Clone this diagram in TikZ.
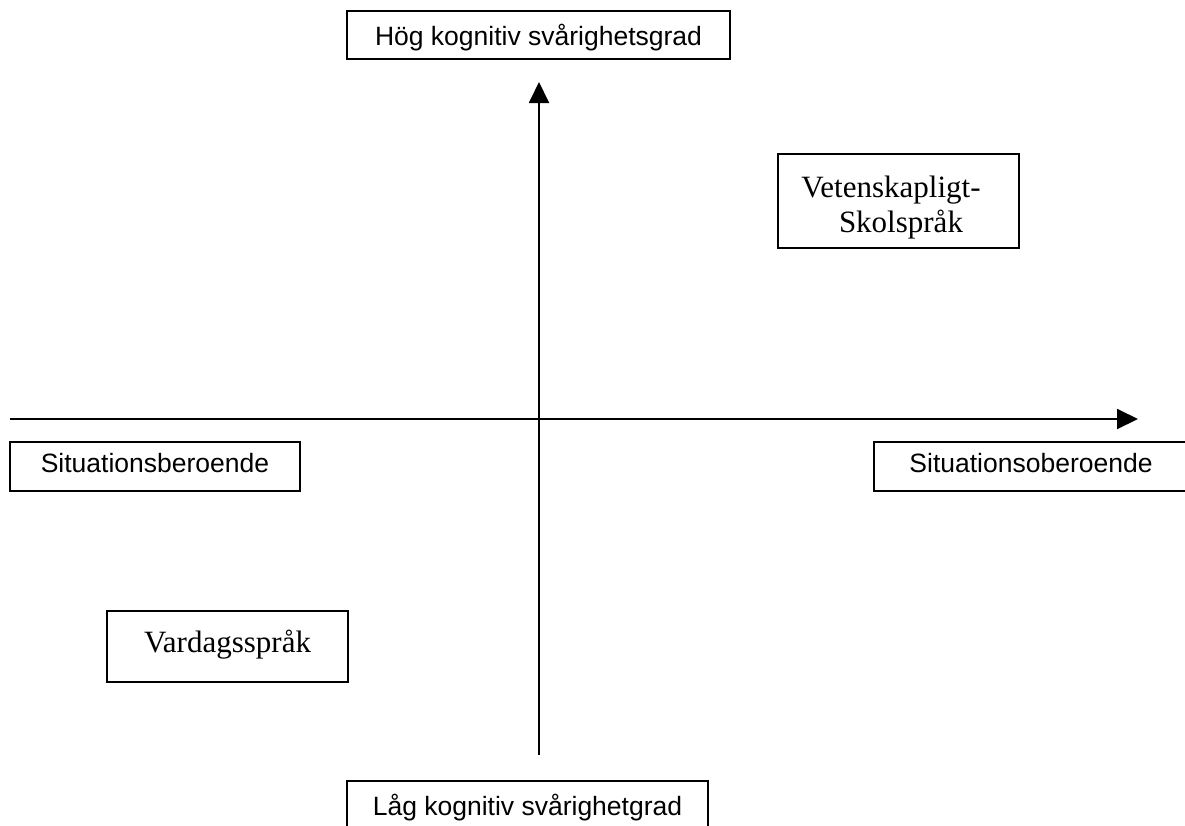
\documentclass[tikz,border=0pt]{standalone}
\usepackage{fontspec}
\setmainfont{Liberation Serif}
\newfontfamily\sansf{Liberation Sans}
\usetikzlibrary{arrows.meta}
\tikzset{
  axisline/.style={line width=1.9pt, -{Triangle[length=21pt,width=20pt]}},
  sbox/.style={draw, line width=1.9pt, rectangle, inner sep=0pt, font=\sansf\fontsize{26.5}{32}\selectfont},
  rbox/.style={draw, line width=1.9pt, rectangle, inner sep=0pt, font=\fontsize{31}{35}\selectfont},
  rtext/.style={inner sep=0pt, anchor=base, font=\fontsize{31}{35}\selectfont}
}
\begin{document}
\begin{tikzpicture}[x=1pt,y=-1pt]
\useasboundingbox (0,0) rectangle (1185,825);
\clip (0,0) rectangle (1185,825);
\fill[white] (0,0) rectangle (1185,825);
% axes
\coordinate (vbot) at (539,755);
\coordinate (vtop) at (539,82);
\coordinate (hl) at (10,419);
\coordinate (hr) at (1138,419);
\draw[axisline] (vbot) -- (vtop);
\draw[axisline] (hl) -- (hr);
% label boxes
\node[sbox, minimum width=383pt, minimum height=48pt, text height=20pt, text depth=0pt] (hog) at (538.5,35) {Hög kognitiv svårighetsgrad};
\node[sbox, minimum width=361pt, minimum height=48pt, text height=20pt, text depth=0pt] (lag) at (527.5,805) {Låg kognitiv svårighetgrad};
\node[sbox, minimum width=290pt, minimum height=49pt, text height=19pt, text depth=8pt] (sitb) at (155,466.5) {Situationsberoende};
\node[sbox, minimum width=314pt, minimum height=49pt, text height=19pt, text depth=8pt] (sito) at (1031,466.5) {Situationsoberoende};
% language boxes
\node[rbox, minimum width=241pt, minimum height=71pt, text height=20.5pt, text depth=9.5pt] (vard) at (227.5,646.5) {Vardagsspråk};
\node[draw, line width=1.9pt, rectangle, minimum width=241pt, minimum height=94pt] (vet) at (898.5,201) {};
\node[rtext] (vet1) at (891,197) {Vetenskapligt-};
\node[rtext] (vet2) at (901,232) {Skolspråk};
\end{tikzpicture}
\end{document}
